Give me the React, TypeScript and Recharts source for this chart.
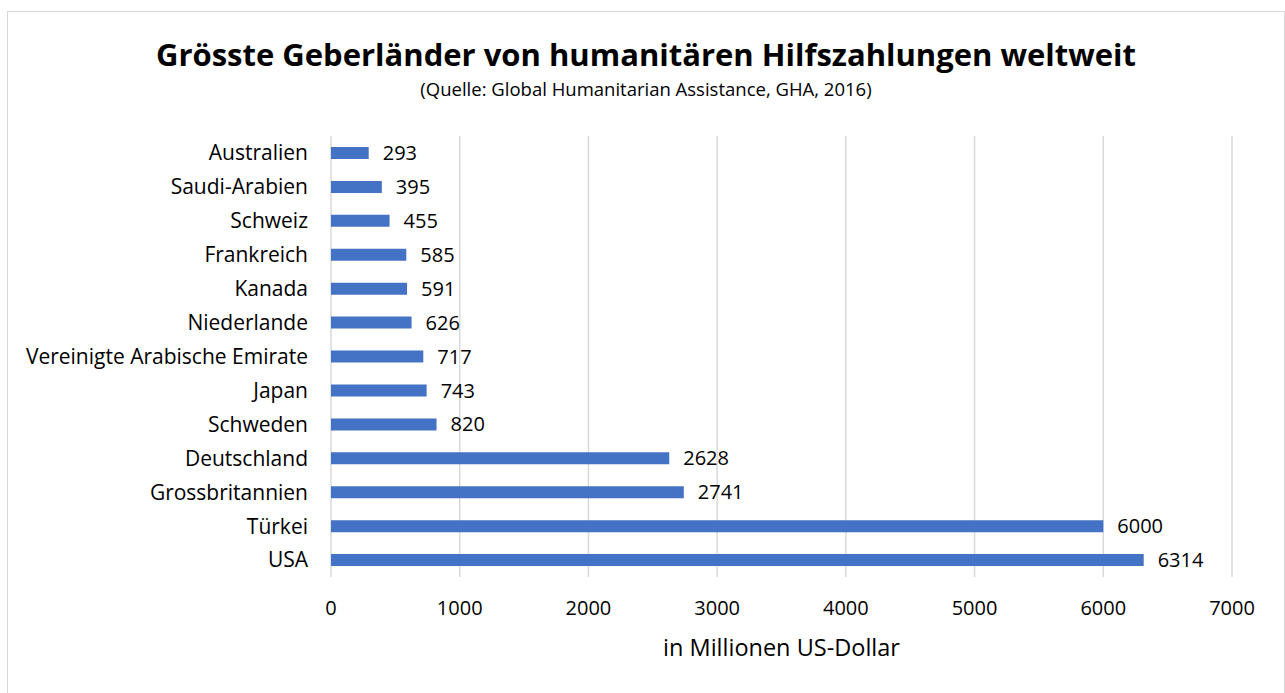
import React from 'react'
import { BarChart, Bar, XAxis, YAxis, CartesianGrid, LabelList, Label } from 'recharts'

const countries = [
  'Australien',
  'Saudi-Arabien',
  'Schweiz',
  'Frankreich',
  'Kanada',
  'Niederlande',
  'Vereinigte Arabische Emirate',
  'Japan',
  'Schweden',
  'Deutschland',
  'Grossbritannien',
  'Türkei',
  'USA',
]
const amounts = [293, 395, 455, 585, 591, 626, 717, 743, 820, 2628, 2741, 6000, 6314]
const xTicks = [0, 1000, 2000, 3000, 4000, 5000, 6000, 7000]

const chartData = countries.map((name, i) => ({ name, value: amounts[i] }))

const FONT = '"Open Sans", Lato, sans-serif'

const App: React.FC = () => (
  <div
    style={{
      position: 'absolute',
      top: 11,
      left: 7,
      width: 1276,
      height: 681,
      border: '1px solid #d9d9d9',
      background: '#fff',
      fontFamily: FONT,
      color: '#000',
      overflow: 'hidden',
    }}
  >
    <div
      style={{
        position: 'absolute',
        top: 22,
        left: 0,
        width: 1276,
        textAlign: 'center',
        fontSize: 31,
        fontWeight: 700,
        lineHeight: '40px',
      }}
    >
      Grösste Geberländer von humanitären Hilfszahlungen weltweit
    </div>
    <div
      style={{
        position: 'absolute',
        top: 66,
        left: 0,
        width: 1276,
        textAlign: 'center',
        fontSize: 18.5,
        lineHeight: '22px',
      }}
    >
      (Quelle: Global Humanitarian Assistance, GHA, 2016)
    </div>
    <div style={{ position: 'absolute', top: 0, left: 0 }}>
      <BarChart
        width={1276}
        height={681}
        data={chartData}
        layout="vertical"
        margin={{ top: 124, right: 52, bottom: 26, left: 0 }}
        barCategoryGap={0}
      >
        <CartesianGrid horizontal={false} stroke="#d9d9d9" strokeWidth={1.5} />
        <XAxis
          type="number"
          domain={[0, 7000]}
          ticks={xTicks}
          axisLine={false}
          tickLine={false}
          tickSize={0}
          tickMargin={24}
          height={90}
          tick={{ fill: '#000', fontSize: 20, fontFamily: FONT }}
        >
          <Label
            value="in Millionen US-Dollar"
            position="insideBottom"
            offset={11}
            style={{ fill: '#000', fontSize: 23.5, fontFamily: FONT }}
          />
        </XAxis>
        <YAxis
          type="category"
          dataKey="name"
          width={323}
          axisLine={false}
          tickLine={false}
          tickSize={6}
          tickMargin={17}
          interval={0}
          tick={{ fill: '#000', fontSize: 21, fontFamily: FONT }}
        />
        <Bar dataKey="value" fill="#4472c4" barSize={12} isAnimationActive={false}>
          <LabelList
            dataKey="value"
            position="right"
            offset={14}
            style={{ fill: '#000', fontSize: 20, fontFamily: FONT }}
          />
        </Bar>
      </BarChart>
    </div>
  </div>
)

export default App
